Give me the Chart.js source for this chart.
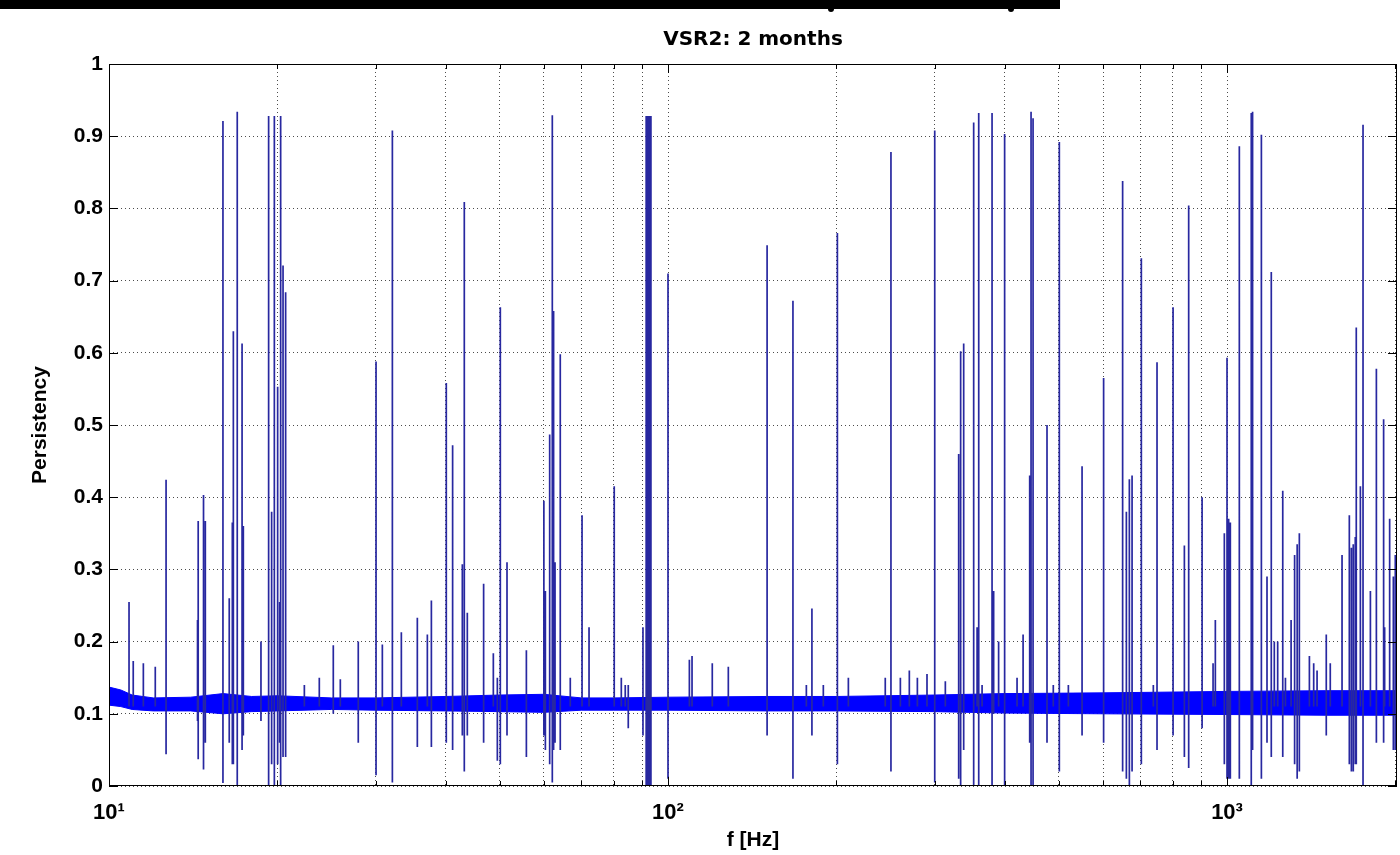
<!DOCTYPE html>
<html>
<head>
<meta charset="utf-8">
<title>VSR2: 2 months</title>
<script src="https://cdn.jsdelivr.net/npm/chart.js@4.4.1/dist/chart.umd.min.js"></script>
<style>
    html, body { margin: 0; padding: 0; background: #fff; }
    #wrap { position: relative; width: 1400px; height: 855px; overflow: hidden; background: #fff; }
    #topBar { position: absolute; left: 0; top: 0; width: 1060px; height: 9px; background: #000; }
    .bump { position: absolute; top: 6px; width: 6px; height: 6px; border-radius: 50%; background: #000; }
</style>
</head>
<body>
<div id="wrap">
    <canvas id="persistencyChart" width="1400" height="855"></canvas>
    <div id="topBar"></div>
    <div class="bump" style="left: 828px;"></div>
    <div class="bump" style="left: 1008px;"></div>
</div>
<script>
// Spectral lines, 10 - 100 Hz: frequency, peak persistency, lowest dip
const lowFreq = [10.86, 11.05, 11.52, 12.10, 12.65, 14.40, 14.44, 14.76, 14.87, 15.99,
    16.41, 16.62, 16.69, 16.96, 17.30, 17.39, 18.70, 19.30, 19.54, 19.76,
    20.03, 20.20, 20.28, 20.48, 20.70, 22.36, 23.78, 25.19, 25.93, 27.92,
    30.04, 30.83, 32.13, 33.34, 35.61, 37.11, 37.73, 40.12, 41.18, 42.86,
    43.21, 43.75, 46.79, 48.70, 49.51, 50.12, 51.52, 55.80, 59.97, 60.34,
    61.42, 62.09, 62.42, 62.79, 64.16, 66.86, 70.18, 72.23, 80.13, 82.5,
    83.85, 84.9, 90.2, 91.4, 91.7, 92.0, 92.3, 92.6, 92.9, 93.2];
const lowTop = [.255, .173, .17, .165, .424, .23, .367, .403, .367, .921,
    .26, .365, .63, .934, .613, .36, .2, .928, .38, .928,
    .553, .255, .928, .721, .684, .14, .15, .195, .148, .2,
    .588, .196, .908, .213, .233, .21, .257, .558, .472, .307,
    .809, .24, .28, .184, .15, .663, .31, .188, .395, .27,
    .487, .929, .658, .31, .598, .15, .375, .22, .415, .15,
    .14, .14, .22, .928, .928, .928, .928, .928, .928, .928];
const lowBottom = [.11, .11, .11, .11, .044, .09, .037, .023, .06, .004,
    .06, .03, .03, 0, .05, .07, .09, 0, .03, 0,
    .03, .06, 0, .04, .04, .11, .11, .1, .11, .06,
    .015, .11, .005, .11, .054, .11, .054, .06, .05, .07,
    .02, .07, .06, .11, .035, .03, .07, .04, .07, .05,
    .03, .005, .05, .06, .05, .11, .11, .11, .11, .11,
    .11, .08, .07, 0, 0, 0, 0, 0, 0, 0];

// Spectral lines, 100 - 1000 Hz
const midFreq = [100, 109.2, 110.4, 120.0, 128.2, 150.4, 167.3, 176.8, 180.9, 189.6,
    200.9, 210.2, 244.7, 250.5, 260.4, 270.2, 279.3, 290.6, 300, 313.4,
    331.1, 333.8, 338.0, 352.2, 357.2, 359.6, 364.6, 379.9, 382.4, 390.3,
    400.1, 421.1, 431.7, 443.6, 446.1, 449.8, 476.4, 488.9, 501.2, 520.2,
    550.4, 601.5, 650.5, 660.6, 668.8, 676.3, 702.6, 738.2, 749.5, 800.7,
    838.9, 853.9, 902.4, 944.1, 953.0, 989.0];
const midTop = [.71, .175, .18, .17, .165, .749, .672, .14, .246, .14,
    .766, .15, .15, .878, .15, .16, .15, .155, .908, .145,
    .46, .602, .613, .919, .22, .932, .14, .932, .27, .2,
    .903, .15, .21, .43, .934, .925, .5, .14, .892, .14,
    .443, .565, .838, .38, .425, .43, .731, .14, .587, .663,
    .333, .804, .4, .17, .23, .35];
const midBottom = [.01, .11, .11, .11, .11, .07, .01, .11, .07, .11,
    .03, .11, .11, .02, .11, .11, .11, .11, .005, .11,
    .01, 0, .05, 0, .11, 0, .11, 0, .1, .11,
    0, .11, .11, .06, 0, 0, .06, .11, .02, .11,
    .07, .06, .02, .01, 0, .02, .03, .11, .05, .07,
    .04, .025, .08, .11, .11, .03];

// Spectral lines, 1000 - 2000 Hz
const highFreq = [1000, 1006.7, 1013.7, 1052, 1105, 1111, 1152, 1179, 1200, 1215,
    1232, 1258, 1272, 1302, 1321, 1335, 1347, 1404, 1429, 1449,
    1505, 1530, 1606, 1655, 1669, 1682, 1696, 1703, 1732, 1751,
    1805, 1850, 1906, 1914, 1954, 1984, 2000];
const highTop = [.593, .37, .365, .886, .932, .934, .902, .29, .712, .2,
    .2, .409, .15, .23, .32, .335, .35, .18, .17, .16,
    .21, .17, .32, .375, .33, .335, .345, .635, .415, .916,
    .27, .578, .508, .22, .37, .29, .32];
const highBottom = [.01, .01, .01, .01, 0, .05, .01, .06, .04, .11,
    .11, .04, .11, .11, .03, .01, .02, .11, .11, .11,
    .07, .11, .11, .03, .02, .02, .03, .03, .11, 0,
    .11, .06, .06, .11, .11, .05, .05];

// Noise floor band (lower and upper edge)
const bandFreq = [10, 10.5, 11, 12, 14, 16, 18, 20, 25, 30, 40, 50, 60, 70, 80, 100,
    150, 200, 300, 400, 600, 1000, 1500, 2014];
const bandLow = [.112, .11, .106, .104, .104, .100, .103, .104, .106, .105, .104, .103, .102, .105, .105, .105,
    .104, .104, .103, .101, .100, .099, .098, .098];
const bandHigh = [.137, .133, .126, .122, .123, .128, .124, .125, .122, .122, .124, .126, .127, .122, .122, .123,
    .124, .124, .126, .128, .129, .131, .132, .132];

// Axes
const gridFreqs = [10, 20, 30, 40, 50, 60, 70, 80, 90, 100, 200, 300, 400, 500, 600, 700, 800, 900, 1000, 2000];
const decadeTicks = [10, 100, 1000];
const decadeLabels = ['10\u00B9', '10\u00B2', '10\u00B3'];

const FONT = "'Liberation Sans', Arial, Helvetica, sans-serif";

function spikePoints(freqs, tops, bottoms) {
    const pts = [];
    freqs.forEach((f, i) => {
        pts.push({x: f, y: bottoms[i]}, {x: f, y: tops[i]}, {x: f, y: null});
    });
    return pts;
}

const spikes = [].concat(
    spikePoints(lowFreq, lowTop, lowBottom),
    spikePoints(midFreq, midTop, midBottom),
    spikePoints(highFreq, highTop, highBottom)
);

// MATLAB style box with inward ticks
const frameAndTicks = {
    id: 'frameAndTicks',
    afterDatasetsDraw(chart) {
        const {ctx, chartArea: a, scales: {x, y}} = chart;
        ctx.save();
        ctx.setLineDash([]);
        ctx.strokeStyle = '#000';
        ctx.lineWidth = 1;
        ctx.strokeRect(a.left + 0.5, a.top + 0.5, a.right - a.left - 1, a.bottom - a.top - 1);
        ctx.beginPath();
        y.ticks.forEach(t => {
            const py = Math.round(y.getPixelForValue(t.value)) + 0.5;
            ctx.moveTo(a.left, py); ctx.lineTo(a.left + 9, py);
            ctx.moveTo(a.right, py); ctx.lineTo(a.right - 9, py);
        });
        x.ticks.forEach(t => {
            const px = Math.round(x.getPixelForValue(t.value)) + 0.5;
            const len = decadeTicks.includes(t.value) ? 9 : 5;
            ctx.moveTo(px, a.top); ctx.lineTo(px, a.top + len);
            ctx.moveTo(px, a.bottom); ctx.lineTo(px, a.bottom - len);
        });
        ctx.stroke();
        ctx.restore();
    }
};

new Chart(document.getElementById('persistencyChart'), {
    type: 'scatter',
    data: {
        datasets: [{
            label: 'Persistency',
            data: spikes,
            showLine: true,
            spanGaps: false,
            borderColor: 'rgb(40, 40, 160)',
            borderWidth: 1.7,
            pointRadius: 0,
            order: 0
        }, {
            label: 'floor low',
            data: bandFreq.map((f, i) => ({x: f, y: bandLow[i]})),
            showLine: true,
            borderColor: '#0000ff',
            borderWidth: 1,
            pointRadius: 0,
            order: 1
        }, {
            label: 'floor high',
            data: bandFreq.map((f, i) => ({x: f, y: bandHigh[i]})),
            showLine: true,
            borderColor: '#0000ff',
            backgroundColor: '#0000ff',
            borderWidth: 1,
            fill: 1,
            pointRadius: 0,
            order: 2
        }]
    },
    options: {
        responsive: false,
        animation: false,
        devicePixelRatio: 1,
        layout: {
            padding: {left: 0, right: 3, top: 0, bottom: 0}
        },
        plugins: {
            legend: {display: false},
            tooltip: {enabled: false},
            title: {
                display: true,
                text: 'VSR2: 2 months',
                fullSize: false,
                color: '#000',
                font: {family: "'DejaVu Sans', sans-serif", weight: 'bold', size: 20},
                padding: {top: 28, bottom: 12}
            }
        },
        scales: {
            x: {
                type: 'logarithmic',
                min: 10,
                max: 2014,
                afterBuildTicks: scale => {
                    scale.ticks = gridFreqs.map(v => ({value: v}));
                },
                afterFit: scale => {
                    scale.height = 69;
                    scale.paddingLeft = 0;
                    scale.paddingRight = 0;
                },
                ticks: {
                    autoSkip: false,
                    maxRotation: 0,
                    padding: 14,
                    color: '#000',
                    font: {family: FONT, weight: 'bold', size: 22},
                    callback: value => {
                        const i = decadeTicks.indexOf(value);
                        return i >= 0 ? decadeLabels[i] : '';
                    }
                },
                grid: {color: 'rgba(0, 0, 0, 0.7)', lineWidth: 1, drawTicks: false},
                border: {display: false, dash: [1, 3]},
                title: {
                    display: true,
                    text: 'f [Hz]',
                    color: '#000',
                    font: {family: FONT, weight: 'bold', size: 21},
                    padding: {top: 0, bottom: 2}
                }
            },
            y: {
                min: 0,
                max: 1,
                afterFit: scale => {
                    scale.width = 109;
                },
                ticks: {
                    stepSize: 0.1,
                    padding: 6,
                    color: '#000',
                    font: {family: FONT, weight: 'bold', size: 21},
                    callback: value => String(Math.round(value * 10) / 10)
                },
                grid: {color: 'rgba(0, 0, 0, 0.7)', lineWidth: 1, drawTicks: false},
                border: {display: false, dash: [1, 3]},
                title: {
                    display: true,
                    text: 'Persistency',
                    color: '#000',
                    font: {family: FONT, weight: 'bold', size: 21},
                    padding: {top: 28, bottom: 0}
                }
            }
        }
    },
    plugins: [frameAndTicks]
});
</script>
</body>
</html>
